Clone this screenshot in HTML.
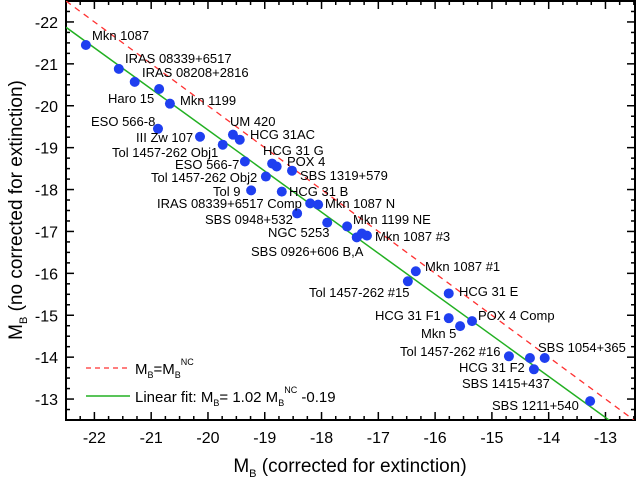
<!DOCTYPE html>
<html><head><meta charset="utf-8">
<style>
html,body{margin:0;padding:0;background:#fff;}
svg{display:block;font-family:"Liberation Sans",Arial,sans-serif;}
</style></head>
<body>
<svg id="chart" width="636" height="484" viewBox="0 0 636 484">
<g id="grid-axes"></g>
<g id="lines"></g>
<g id="points"></g>
<g id="labels"></g>
<g>
  <line x1="86" y1="368" x2="130" y2="368" stroke="#ff3030" stroke-width="1.3" stroke-dasharray="5,4"/>
  <text x="135" y="374" font-size="15">M<tspan font-size="9" dy="4">B</tspan><tspan dy="-4">=M</tspan><tspan font-size="9" dy="4">B</tspan><tspan font-size="9" dy="-13">NC</tspan></text>
  <line x1="86" y1="396" x2="130" y2="396" stroke="#22b022" stroke-width="1.5"/>
  <text x="135" y="402" font-size="15">Linear fit: M<tspan font-size="9" dy="4">B</tspan><tspan dy="-4">= 1.02 M</tspan><tspan font-size="9" dy="4">B</tspan><tspan font-size="9" dy="-13">NC</tspan><tspan dy="9"> -0.19</tspan></text>
</g>
<text x="350" y="472" font-size="19" text-anchor="middle">M<tspan font-size="11" dy="5">B</tspan><tspan dy="-5"> (corrected for extinction)</tspan></text>
<text transform="translate(22,210) rotate(-90)" font-size="19" text-anchor="middle">M<tspan font-size="11" dy="5">B</tspan><tspan dy="-5"> (no corrected for extinction)</tspan></text>
</svg>
<script>
const xs = [-22.15,-21.57,-21.29,-20.86,-20.67,-20.88,-20.14,-19.74,-19.56,-19.44,-19.35,-18.98,-19.24,-18.87,-18.79,-18.52,-18.70,-18.20,-18.06,-18.43,-17.90,-17.55,-17.38,-17.29,-17.20,-16.34,-16.48,-15.76,-15.76,-15.56,-15.35,-14.70,-14.33,-14.07,-14.26,-13.27];
const ys = [-21.45,-20.88,-20.57,-20.40,-20.05,-19.45,-19.26,-19.07,-19.31,-19.19,-18.67,-18.31,-17.98,-18.62,-18.55,-18.45,-17.95,-17.67,-17.64,-17.43,-17.21,-17.12,-16.86,-16.95,-16.90,-16.05,-15.81,-15.52,-14.93,-14.74,-14.86,-14.02,-13.98,-13.98,-13.71,-12.95];
const xTicks = [-22,-21,-20,-19,-18,-17,-16,-15,-14,-13];
const yTicks = [-22,-21,-20,-19,-18,-17,-16,-15,-14,-13];
const fitSlope = 1.02, fitIntercept = -0.19;
const labelTexts = ["Mkn 1087","IRAS 08339+6517","IRAS 08208+2816","Haro 15","Mkn 1199","ESO 566-8","UM 420","III Zw 107","HCG 31AC","Tol 1457-262 Obj1","HCG 31 G","POX 4","ESO 566-7","SBS 1319+579","Tol 1457-262 Obj2","Tol 9","HCG 31 B","IRAS 08339+6517 Comp","Mkn 1087 N","SBS 0948+532","NGC 5253","Mkn 1199 NE","Mkn 1087 #3","SBS 0926+606 B,A","Mkn 1087 #1","Tol 1457-262 #15","HCG 31 E","HCG 31 F1","POX 4 Comp","Mkn 5","SBS 1054+365","Tol 1457-262 #16","HCG 31 F2","SBS 1415+437","SBS 1211+540"];
const labelPos = [[92,35],[125,58],[142,72],[108,98],[180,100],[91,121],[230,121],[136,137],[250,134],[112,152],[263,150],[287,161],[175,164],[300,175],[151,177],[213,191],[289,191],[157,203],[325,203],[205,219],[268,232],[353,219],[375,236],[251,251],[425,266],[309,292],[459,291],[375,315],[478,315],[421,333],[538,347],[400,351],[459,367],[462,383],[492,405]];
const X0=66,X1=635,Y0=1,Y1=420,XMIN=-22.5,XMAX=-12.48,YMIN=-22.5,YMAX=-12.5;
const sx=v=>X0+(v-XMIN)/(XMAX-XMIN)*(X1-X0);
const sy=v=>Y0+(v-YMIN)/(YMAX-YMIN)*(Y1-Y0);
const NS="http://www.w3.org/2000/svg";
function mk(tag,attrs,parent){const e=document.createElementNS(NS,tag);for(const k in attrs)e.setAttribute(k,attrs[k]);parent.appendChild(e);return e;}
const ax=document.getElementById('grid-axes');
const frame=mk('rect',{x:X0,y:Y0,width:X1-X0,height:Y1-Y0,fill:'none',stroke:'#000','stroke-width':2},ax);


for(let v=-22.5;v<=-12.49;v+=0.25){
  const major=Math.abs(v-Math.round(v))<1e-6;const L=major?8:4;
  const x=sx(v),y=sy(v);
  const t1=mk('line',{x1:x,y1:Y1,x2:x,y2:Y1-L,stroke:'#000','stroke-width':1.5},ax);
  
  
  const t2=mk('line',{x1:x,y1:Y0,x2:x,y2:Y0+L,stroke:'#000','stroke-width':1.5},ax);
  
  
  const t3=mk('line',{x1:X0,y1:y,x2:X0+L,y2:y,stroke:'#000','stroke-width':1.5},ax);
  
  
  const t4=mk('line',{x1:X1,y1:y,x2:X1-L,y2:y,stroke:'#000','stroke-width':1.5},ax);
  
  
}
xTicks.forEach(v=>{const t=mk('text',{x:sx(v),y:443,'font-size':16,'text-anchor':'middle'},ax);t.textContent=String(v);
  
  });
yTicks.forEach(v=>{const t=mk('text',{x:58,y:sy(v)+6,'font-size':16,'text-anchor':'end'},ax);t.textContent=String(v);
  
  });
const ln=document.getElementById('lines');
const cp=mk('clipPath',{id:'clip'},ln);mk('rect',{x:X0,y:Y0,width:X1-X0,height:Y1-Y0},cp);
const idl=mk('line',{x1:sx(-22.5),y1:sy(-22.5),x2:sx(-12.5),y2:sy(-12.5),stroke:'#ff3030','stroke-width':1.3,'stroke-dasharray':'6,5','clip-path':'url(#clip)'},ln);


const fy=x=>(x-fitIntercept)/fitSlope;
const fl=mk('line',{x1:sx(-22.5),y1:sy(fy(-22.5)),x2:sx(-12.5),y2:sy(fy(-12.5)),stroke:'#22b022','stroke-width':1.5,'clip-path':'url(#clip)'},ln);


const pg=document.getElementById('points');
xs.forEach((x,i)=>{const c=mk('circle',{cx:sx(x),cy:sy(ys[i]),r:5,fill:'#1f3ff0'},pg);
  
  });
const lg=document.getElementById('labels');
labelTexts.forEach((s,i)=>{const p=labelPos[i];const t=mk('text',{x:p[0],y:p[1]+5,'font-size':13},lg);t.textContent=s;
  
  });
</script>
</body></html>
